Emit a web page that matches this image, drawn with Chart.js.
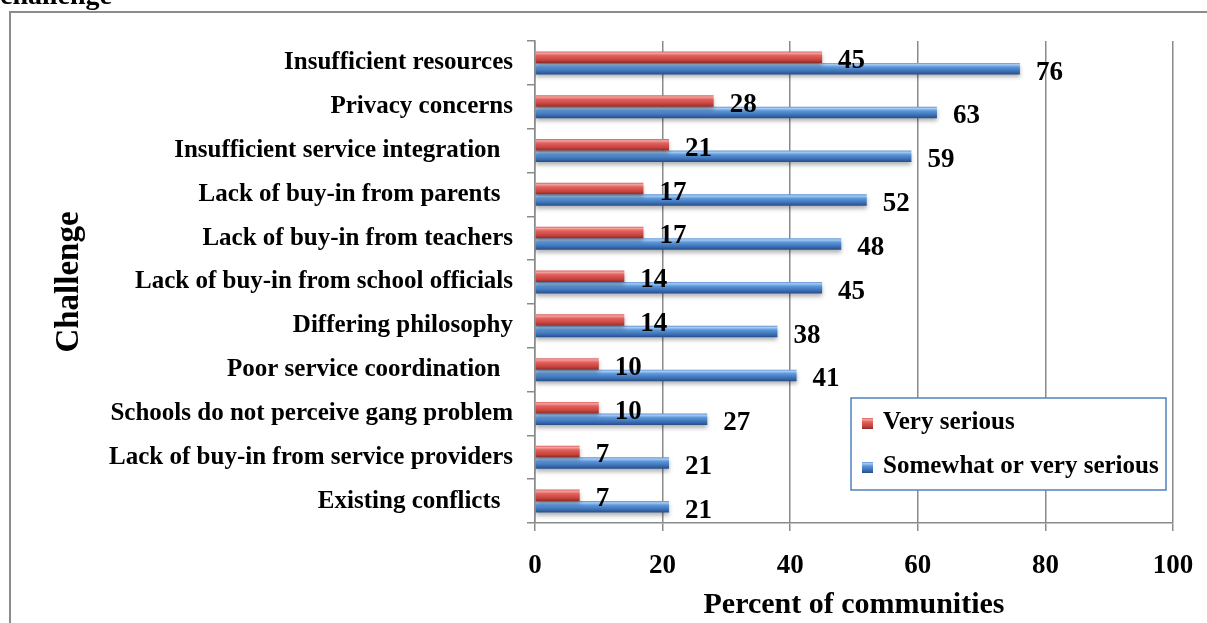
<!DOCTYPE html>
<html>
<head>
<meta charset="utf-8">
<title>Challenges</title>
<script src="https://cdn.jsdelivr.net/npm/chart.js@4"></script>
<style>
  body { margin: 0; background: #fff; }
  #wrap { position: relative; width: 1207px; height: 623px; overflow: hidden; }
  canvas { position: absolute; left: 0; top: 0; }
  #caption { position: absolute; z-index: 2; left: 0; top: -19px; font: bold 28px/28px "Liberation Serif", serif; white-space: nowrap; }
</style>
</head>
<body>
<div id="wrap">
  <canvas id="challengeChart" width="1207" height="623"></canvas>
  <div id="caption">challenge</div>
</div>
<script>
// categories, top to bottom (some labels carry trailing spaces as typed)
const challenges = [
    'Insufficient resources',
    'Privacy concerns',
    'Insufficient service integration  ',
    'Lack of buy-in from parents  ',
    'Lack of buy-in from teachers',
    'Lack of buy-in from school officials',
    'Differing philosophy',
    'Poor service coordination  ',
    'Schools do not perceive gang problem',
    'Lack of buy-in from service providers',
    'Existing conflicts  '
];
const verySerious = [45, 28, 21, 17, 17, 14, 14, 10, 10, 7, 7];
const somewhatSerious = [76, 63, 59, 52, 48, 45, 38, 41, 27, 21, 21];
const percentTicks = [0, 20, 40, 60, 80, 100];

const FONT = '"Liberation Serif", "Times New Roman", serif';
const AXIS_GREY = '#8a8a8a';

// outer frame of the chart object
const frame = {
    id: 'frame',
    beforeDraw(chart) {
        const ctx = chart.ctx;
        ctx.save();
        ctx.fillStyle = '#fff';
        ctx.fillRect(0, 0, chart.width, chart.height);
        ctx.strokeStyle = '#8c8c8c';
        ctx.lineWidth = 2;
        ctx.strokeRect(10, 12, chart.width + 20, chart.height + 20);
        ctx.restore();
    }
};

// vertical "glossy" gradient per bar (options are per element because
// backgroundColor is scriptable, so each bar can get its own gradient)
const barShading = {
    id: 'barShading',
    beforeDatasetsDraw(chart) {
        const ctx = chart.ctx;
        chart.data.datasets.forEach((ds, i) => {
            chart.getDatasetMeta(i).data.forEach(bar => {
                const top = bar.y - bar.height / 2;
                const g = ctx.createLinearGradient(0, top, 0, top + bar.height);
                ds.shades.forEach(([stop, color]) => g.addColorStop(stop, color));
                bar.options.backgroundColor = g;
            });
        });
    },
    beforeDatasetDraw(chart) {
        const ctx = chart.ctx;
        ctx.save();
        ctx.shadowColor = 'rgba(0, 0, 0, 0.3)';
        ctx.shadowBlur = 4;
        ctx.shadowOffsetY = 3;
    },
    afterDatasetDraw(chart) {
        chart.ctx.restore();
    }
};

// value printed just past the end of each bar
const valueLabels = {
    id: 'valueLabels',
    afterDatasetsDraw(chart) {
        const ctx = chart.ctx;
        ctx.save();
        ctx.font = 'bold 27px ' + FONT;
        ctx.fillStyle = '#000';
        ctx.textAlign = 'left';
        ctx.textBaseline = 'middle';
        chart.data.datasets.forEach((ds, i) => {
            chart.getDatasetMeta(i).data.forEach((bar, j) => {
                ctx.fillText(String(ds.data[j]), bar.x + 16, bar.y + 4);
            });
        });
        ctx.restore();
    }
};

// boxed legend sitting inside the plot, lower right
const boxLegend = {
    id: 'boxLegend',
    afterDraw(chart) {
        const ctx = chart.ctx;
        const area = chart.chartArea;
        const w = 315, h = 92;
        const left = area.right - 7 - w;
        const top = area.bottom - 125;
        ctx.save();
        ctx.fillStyle = '#fff';
        ctx.fillRect(left, top, w, h);
        ctx.strokeStyle = '#4f81bd';
        ctx.lineWidth = 1.5;
        ctx.strokeRect(left, top, w, h);
        ctx.font = 'bold 25px ' + FONT;
        ctx.textBaseline = 'middle';
        ctx.textAlign = 'left';
        chart.data.datasets.forEach((ds, i) => {
            const cy = top + 25 + i * 44;
            const g = ctx.createLinearGradient(0, cy - 5, 0, cy + 6);
            ds.shades.forEach(([stop, color]) => g.addColorStop(stop, color));
            ctx.fillStyle = g;
            ctx.fillRect(left + 11, cy - 5, 11, 11);
            ctx.fillStyle = '#000';
            ctx.fillText(ds.label, left + 32, cy);
        });
        ctx.restore();
    }
};

new Chart(document.getElementById('challengeChart'), {
    type: 'bar',
    data: {
        labels: challenges,
        datasets: [
            {
                label: 'Very serious',
                data: verySerious,
                backgroundColor: () => '#c0504d',
                shades: [[0, '#d8605c'], [0.15, '#f2a3a0'], [0.35, '#e2625d'], [0.75, '#c8423d'], [1, '#8a2c29']]
            },
            {
                label: 'Somewhat or very serious',
                data: somewhatSerious,
                backgroundColor: () => '#4f81bd',
                shades: [[0, '#5f92d2'], [0.15, '#a7cbf2'], [0.35, '#5c98dc'], [0.75, '#3a6db2'], [1, '#264c86']]
            }
        ]
    },
    options: {
        indexAxis: 'y',
        responsive: false,
        animation: false,
        devicePixelRatio: 1,
        categoryPercentage: 0.525,
        barPercentage: 1,
        layout: { padding: { left: 0, top: 41, right: 34, bottom: 0 } },
        plugins: {
            legend: { display: false },
            tooltip: { enabled: false }
        },
        scales: {
            x: {
                min: 0,
                max: 100,
                afterFit(scale) {
                    scale.height = 100;
                    scale.paddingLeft = 0;
                    scale.paddingRight = 0;
                },
                afterBuildTicks(scale) { scale.ticks = percentTicks.map(v => ({ value: v })); },
                grid: { color: AXIS_GREY, lineWidth: 1.5, tickLength: 8 },
                border: { color: AXIS_GREY, width: 1.5 },
                ticks: { color: '#000', padding: 19, font: { family: FONT, size: 27, weight: 'bold' } },
                title: {
                    display: true,
                    text: 'Percent of communities',
                    color: '#000',
                    padding: { top: 0, bottom: 0 },
                    font: { family: FONT, size: 30, weight: 'bold' }
                }
            },
            y: {
                offset: true,
                afterFit(scale) { scale.width = 535; },
                grid: { offset: true, drawOnChartArea: false, color: AXIS_GREY, lineWidth: 1.5, tickLength: 8 },
                border: { color: AXIS_GREY, width: 1.5 },
                ticks: { color: '#000', padding: 14, font: { family: FONT, size: 25, weight: 'bold' } },
                title: {
                    display: true,
                    text: 'Challenge',
                    color: '#000',
                    padding: { top: 50, bottom: 0 },
                    font: { family: FONT, size: 33, weight: 'bold' }
                }
            }
        }
    },
    plugins: [frame, barShading, valueLabels, boxLegend]
});
</script>
</body>
</html>
